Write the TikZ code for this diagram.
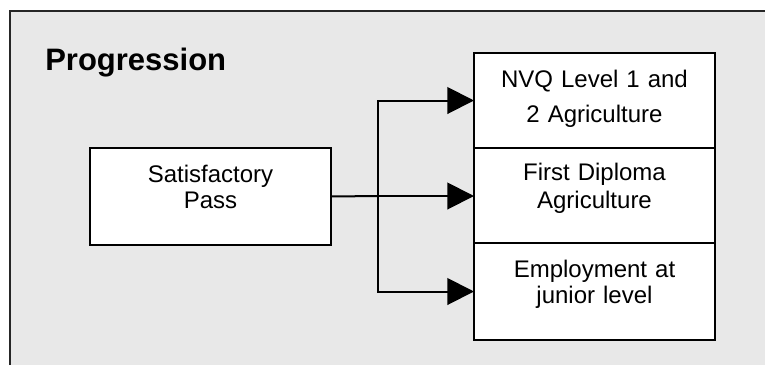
\documentclass[tikz,border=0pt]{standalone}
\usepackage{fontspec}
\setmainfont{Liberation Sans}
\usetikzlibrary{arrows.meta,positioning}

\begin{document}
\begin{tikzpicture}[
    x=0.75pt, y=-0.75pt,
    node distance=0pt,
    panel/.style={
        fill=black!9
    },
    box/.style={
        rectangle,
        draw,
        fill=white,
        line width=1.5pt,
        outer sep=0pt,
        inner sep=0pt,
        minimum width=180.75pt,
        minimum height=71.25pt
    },
    boxtext/.style={
        anchor=base,
        inner sep=0pt,
        text width=180pt,
        align=center
    },
    line/.style={
        draw, line width=1.5pt
    },
    arrow/.style={
        draw, line width=1.5pt, -{Triangle[length=20pt,width=20pt]}
    }
]

    \useasboundingbox (0,0) rectangle (765,365);

    % Background panel
    \fill [panel] (9.5,11) rectangle (765,365);
    \draw [line width=1.5pt, black!85] (9.5,365) -- (9.5,11) -- (765,11);

    % Title
    \node [anchor=base west, inner sep=0pt, font=\fontsize{23.25}{28}\selectfont\bfseries] (title) at (45,70) {Progression};

    % Nodes
    \node [box, line width=0.8pt, minimum height=72.75pt, anchor=north west] (sat) at (90,148) {};
    \node [box, anchor=north west] (nvq) at (474,53) {};
    \node [box, below=of nvq] (dip) {};
    \node [box, below=of dip, minimum height=72.75pt] (emp) {};

    % Texts
    \node [boxtext, font=\fontsize{18}{19.5}\selectfont] (sattext) at ([yshift=-25.5pt]sat.north) {Satisfactory\\Pass};
    \node [boxtext, font=\fontsize{18}{26.25}\selectfont] (nvqtext) at ([yshift=-25.5pt]nvq.north) {NVQ Level 1 and\\2 Agriculture};
    \node [boxtext, font=\fontsize{18}{21}\selectfont] (diptext) at ([yshift=-24pt]dip.north) {First Diploma\\Agriculture};
    \node [boxtext, font=\fontsize{18}{19.5}\selectfont] (emptext) at ([yshift=-25.5pt]emp.north) {Employment at\\junior level};

    % Edges
    \coordinate (split) at (378,196);
    \path [line] (sat.east) -- (split);
    \path [arrow] (split) |- (nvq.west);
    \path [arrow] (split) -- (split -| dip.west);
    \path [arrow] (split) |- (emp.west);

\end{tikzpicture}
\end{document}
